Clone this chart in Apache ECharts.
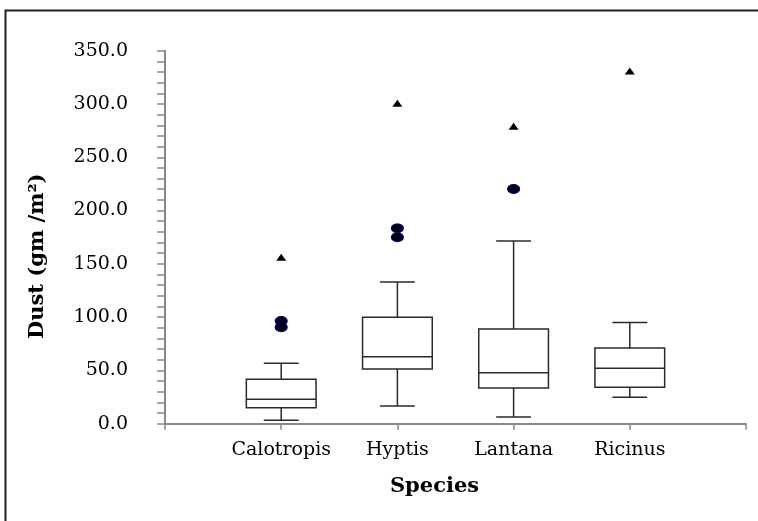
<!DOCTYPE html>
<html>
<head>
<meta charset="utf-8">
<script src="https://cdn.jsdelivr.net/npm/echarts@6/dist/echarts.min.js"></script>
<style>
  html, body { margin: 0; padding: 0; background: #fff; }
  #chart { width: 758px; height: 521px; }
</style>
</head>
<body>
<div id="chart"></div>
<script>
// Dust per species, box plot
const categories = ['Calotropis', 'Hyptis', 'Lantana', 'Ricinus'];
const lowWhisker = [3.2, 16.6, 6.3, 24.8];
const q1 = [15.0, 51.3, 33.5, 34.2];
const median = [22.9, 62.9, 47.9, 52.0];
const q3 = [41.7, 99.8, 88.9, 71.0];
const highWhisker = [56.7, 133.0, 171.4, 95.0];
const outlierSpecies = ['Calotropis', 'Calotropis', 'Hyptis', 'Hyptis', 'Lantana'];
const outlierValues = [96.4, 90.5, 183.3, 174.9, 220.2];
const extremeValues = [156.1, 300.6, 279.1, 331.0];
const yTicks = [0, 50, 100, 150, 200, 250, 300, 350];

const axisData = [''].concat(categories, ['']);
const catIndex = name => axisData.indexOf(name);

const boxData = categories.map((c, i) =>
  [catIndex(c), lowWhisker[i], q1[i], median[i], q3[i], highWhisker[i]]);
const outlierData = outlierSpecies.map((c, i) => [catIndex(c), outlierValues[i]]);
const extremeData = categories.map((c, i) => [catIndex(c), extremeValues[i]]);

const lineColor = '#2a2a2a';

function renderBox(params, api) {
  const x = api.value(0);
  const band = api.size([1, 0])[0];
  const boxW = band * 0.6;
  const capW = band * 0.3;
  const pLow = api.coord([x, api.value(1)]);
  const pQ1 = api.coord([x, api.value(2)]);
  const pMed = api.coord([x, api.value(3)]);
  const pQ3 = api.coord([x, api.value(4)]);
  const pHigh = api.coord([x, api.value(5)]);
  const cx = pQ1[0];
  const style = { stroke: lineColor, lineWidth: 1.5, fill: null };
  const line = (x1, y1, x2, y2) => ({ type: 'line', shape: { x1, y1, x2, y2 }, style });
  return {
    type: 'group',
    children: [
      line(cx, pHigh[1], cx, pQ3[1]),
      line(cx - capW / 2, pHigh[1], cx + capW / 2, pHigh[1]),
      line(cx, pQ1[1], cx, pLow[1]),
      line(cx - capW / 2, pLow[1], cx + capW / 2, pLow[1]),
      { type: 'rect', shape: { x: cx - boxW / 2, y: pQ3[1], width: boxW, height: pQ1[1] - pQ3[1] },
        style: { stroke: lineColor, lineWidth: 1.5, fill: '#fff' } },
      line(cx - boxW / 2, pMed[1], cx + boxW / 2, pMed[1])
    ]
  };
}

const chart = echarts.init(document.getElementById('chart'));
const font = 'DejaVu Serif';
chart.setOption({
  animation: false,
  backgroundColor: '#fff',
  textStyle: { fontFamily: font },
  graphic: [{
    type: 'rect',
    shape: { x: 5.5, y: 10.5, width: 800, height: 600 },
    style: { stroke: '#222', lineWidth: 2, fill: null },
    silent: true
  }],
  grid: { left: 165, right: 12, top: 50.7, bottom: 97.3 },
  xAxis: {
    type: 'category',
    data: axisData,
    boundaryGap: false,
    name: 'Species',
    nameLocation: 'middle',
    nameGap: 52,
    nameTextStyle: { fontFamily: font, fontWeight: 'bold', fontSize: 21, color: '#000', padding: [0, 42, 0, 0] },
    axisLine: { lineStyle: { color: '#888', width: 2 } },
    axisTick: { show: true, length: 6, interval: 0, lineStyle: { color: '#888', width: 1.5 } },
    axisLabel: { fontFamily: font, fontSize: 19, color: '#000', margin: 17, interval: 0 },
    splitLine: { show: false }
  },
  yAxis: {
    type: 'value',
    min: 0,
    max: 350,
    interval: 50,
    name: 'Dust (gm /m²)',
    nameLocation: 'middle',
    nameGap: 117,
    nameTextStyle: { fontFamily: font, fontWeight: 'bold', fontSize: 21, color: '#000', padding: [0, 38, 0, 0] },
    axisLine: { show: true, lineStyle: { color: '#888', width: 2 } },
    axisTick: { show: true, length: 8, lineStyle: { color: '#888', width: 1.5 } },
    minorTick: { show: true, splitNumber: 5, length: 8, lineStyle: { color: '#888', width: 1.5 } },
    axisLabel: {
      fontFamily: font, fontSize: 19, color: '#000', margin: 37,
      formatter: v => yTicks.includes(v) ? v.toFixed(1) : ''
    },
    splitLine: { show: false }
  },
  series: [
    {
      type: 'custom',
      renderItem: renderBox,
      data: boxData,
      encode: { x: 0, y: [1, 2, 3, 4, 5] },
      z: 2
    },
    {
      type: 'scatter',
      data: outlierData,
      symbol: 'circle',
      symbolSize: [12, 9],
      itemStyle: { color: '#000010', borderColor: '#000080', borderWidth: 1, opacity: 1 },
      z: 3
    },
    {
      type: 'scatter',
      data: extremeData,
      symbol: 'triangle',
      symbolSize: [10, 7],
      itemStyle: { color: '#000', opacity: 1 },
      z: 3
    }
  ]
});
</script>
</body>
</html>
